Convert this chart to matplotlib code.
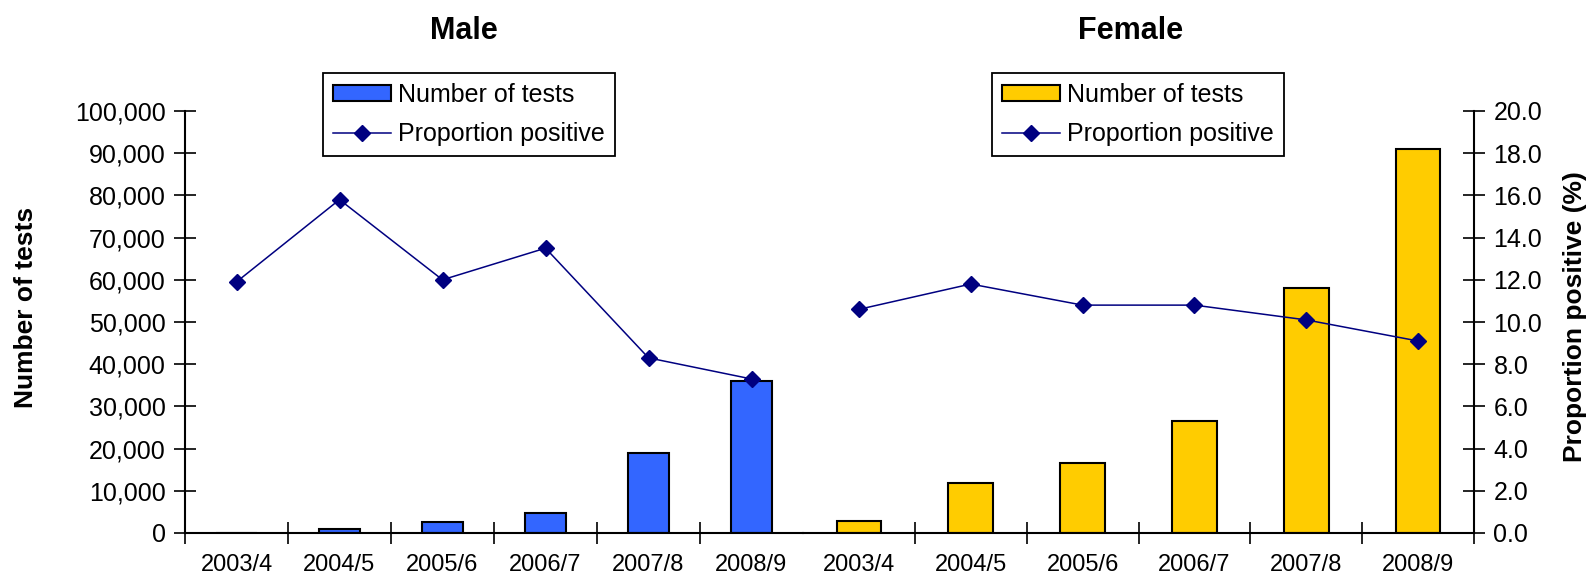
import matplotlib
matplotlib.use("Agg")
import matplotlib.pyplot as plt
from matplotlib.ticker import StrMethodFormatter, FormatStrFormatter, FixedLocator

# data
years = ["2003/4", "2004/5", "2005/6", "2006/7", "2007/8", "2008/9"]
male_tests = [0, 1000, 2700, 4800, 19000, 36000]
male_prop = [11.9, 15.8, 12.0, 13.5, 8.3, 7.3]
female_tests = [2900, 11900, 16600, 26500, 58000, 91000]
female_prop = [10.6, 11.8, 10.8, 10.8, 10.1, 9.1]

W, H = 1592, 583
fig = plt.figure(figsize=(W / 100, H / 100), dpi=100)
plt.rcParams['font.family'] = ['Liberation Sans', 'DejaVu Sans']

blue = "#3366FF"
yellow = "#FFCC00"
navy = "#000080"
tick_font = 18

bottom = 1 - 533 / H
height = (533 - 111) / H
ax_m = fig.add_axes([185 / W, bottom, 618 / W, height])
ax_f = fig.add_axes([803 / W, bottom, 671 / W, height])
ax_m2 = ax_m.twinx()
ax_f2 = ax_f.twinx()

x = list(range(len(years)))

def draw_panel(ax, ax2, tests, prop, color):
    bars = ax.bar(x, tests, width=0.4, color=color, edgecolor="black", linewidth=1.5,
                  label="Number of tests")
    line, = ax2.plot(x, prop, color=navy, lw=1.1, marker="D", markersize=8,
                     markerfacecolor=navy, markeredgecolor=navy, label="Proportion positive")
    ax.set_xlim(-0.5, 5.5)
    ax.set_ylim(0, 100000)
    ax2.set_ylim(0, 20)
    ax.set_xticks(x)
    ax.set_xticklabels(years, fontsize=17)
    ax.tick_params(axis="x", which="major", length=0, pad=15)
    for a in (ax, ax2):
        for s in a.spines.values():
            s.set_visible(False)
        a.set_facecolor("none")
    ax.spines["bottom"].set_visible(True)
    ax.spines["bottom"].set_linewidth(1.5)
    return bars, line

bars_m, line_m = draw_panel(ax_m, ax_m2, male_tests, male_prop, blue)
bars_f, line_f = draw_panel(ax_f, ax_f2, female_tests, female_prop, yellow)

# category separators on the x axis
ax_m.xaxis.set_minor_locator(FixedLocator([-0.5, 0.5, 1.5, 2.5, 3.5, 4.5]))
ax_f.xaxis.set_minor_locator(FixedLocator([0.5, 1.5, 2.5, 3.5, 4.5, 5.5]))
for a in (ax_m, ax_f):
    a.tick_params(axis="x", which="minor", direction="inout", length=16, width=1.2)

# left axis: number of tests
ax_m.spines["left"].set_visible(True)
ax_m.spines["left"].set_linewidth(1.5)
ax_m.set_yticks(range(0, 100001, 10000))
ax_m.yaxis.set_major_formatter(StrMethodFormatter("{x:,.0f}"))
ax_m.tick_params(axis="y", direction="inout", length=16, width=1.2, labelsize=tick_font, pad=6)
ax_m2.set_yticks([])
ax_f.set_yticks([])

# right axis: proportion positive
ax_f2.spines["right"].set_visible(True)
ax_f2.spines["right"].set_linewidth(1.5)
ax_f2.set_yticks(range(0, 21, 2))
ax_f2.yaxis.set_major_formatter(FormatStrFormatter("%.1f"))
ax_f2.tick_params(axis="y", direction="inout", length=16, width=1.2, labelsize=tick_font, pad=6)

# titles and axis labels
fig.text(464 / W, 1 - 31 / H, "Male", ha="center", va="center", fontsize=22, fontweight="bold")
fig.text(1131 / W, 1 - 31 / H, "Female", ha="center", va="center", fontsize=22, fontweight="bold")
fig.text(26 / W, 1 - 307 / H, "Number of tests", rotation=90, ha="center", va="center",
         fontsize=19, fontweight="bold")
fig.text(1575 / W, 1 - 317 / H, "Proportion positive (%)", rotation=90, ha="center", va="center",
         fontsize=19, fontweight="bold")

# legends
leg_kw = dict(loc="upper left", bbox_transform=fig.transFigure, fontsize=tick_font,
              fancybox=False, framealpha=1, edgecolor="black", borderaxespad=0,
              handlelength=2.3, handleheight=0.6, handletextpad=0.3, labelspacing=0.6,
              borderpad=0.4)
lg1 = fig.legend([bars_m, line_m], ["Number of tests", "Proportion positive"],
                 bbox_to_anchor=(323 / W, 1 - 73 / H), **leg_kw)
lg2 = fig.legend([bars_f, line_f], ["Number of tests", "Proportion positive"],
                 bbox_to_anchor=(992 / W, 1 - 73 / H), **leg_kw)
for lg in (lg1, lg2):
    lg.get_frame().set_linewidth(1.3)

fig.savefig("out.png", dpi=100)
